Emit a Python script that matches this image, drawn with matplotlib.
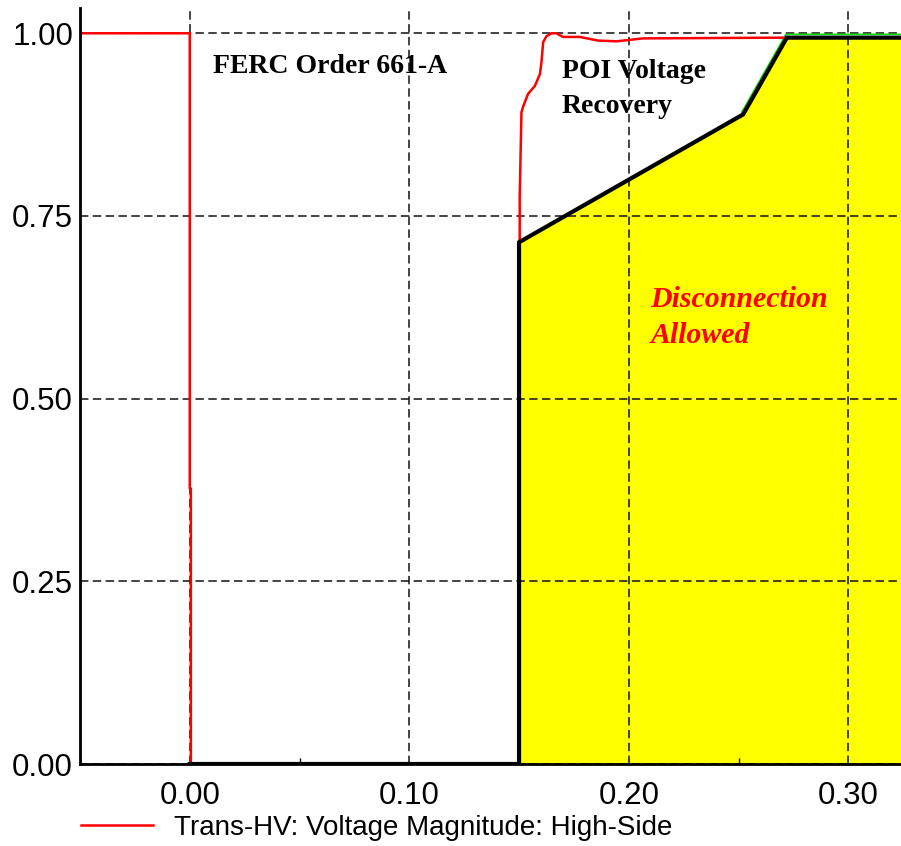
import matplotlib
matplotlib.use("Agg")
import matplotlib.pyplot as plt
from matplotlib.ticker import FixedLocator

# ---- data ----
red_t = [-0.05, 0.0, 0.0, 0.0005, 0.0005, 0.1503, 0.1503, 0.1503, 0.1511, 0.1519,
         0.1541, 0.1572, 0.1595, 0.1602, 0.1610, 0.1625, 0.1648, 0.1670, 0.1700,
         0.1777, 0.1860, 0.1945, 0.2064, 0.2690, 0.2720, 0.324]
red_v = [1.0, 1.0, 0.377, 0.377, 0.0, 0.0, 0.714, 0.777, 0.892, 0.900,
         0.917, 0.928, 0.944, 0.960, 0.988, 0.996, 1.000, 1.000, 0.995,
         0.995, 0.990, 0.989, 0.993, 0.994, 0.994, 0.994]

thr_t = [0.0, 0.15, 0.15, 0.2521, 0.2720, 0.324]
thr_v = [0.0, 0.0, 0.714, 0.889, 0.994, 0.994]

green_t = [0.2515, 0.2716, 0.324]
green_v = [0.892, 0.9985, 0.9985]

fill_t = [0.15, 0.2521, 0.2720, 0.324]
fill_v = [0.714, 0.889, 0.994, 0.994]

xticks = [0.0, 0.1, 0.2, 0.3]
xtick_labels = ["0.00", "0.10", "0.20", "0.30"]
yticks = [0.0, 0.25, 0.5, 0.75, 1.0]
ytick_labels = ["0.00", "0.25", "0.50", "0.75", "1.00"]
legend_label = "Trans-HV: Voltage Magnitude: High-Side"

# ---- figure ----
W, H = 901, 846
fig = plt.figure(figsize=(W / 100, H / 100), dpi=100)
ax = fig.add_axes([80 / W, 1 - 764 / H, 1 - 80 / W, (764 - 8) / H])
ax.set_xlim(-0.05, 0.324)
ax.set_ylim(0, 1.0346)

ax.fill_between(fill_t, 0, fill_v, color="#ffff00", lw=0, zorder=1)

ax.set_axisbelow(False)
ax.grid(True, which="major", color="#111111", lw=1.1, linestyle=(0, (5.5, 2.9)), zorder=2)

ax.plot(green_t, green_v, color="#00dd00", lw=1.2, zorder=3)
ax.plot(thr_t, thr_v, color="black", lw=3.0, zorder=4, solid_joinstyle="miter")
line, = ax.plot(red_t, red_v, color="red", lw=1.8, zorder=3.5, label=legend_label)

ax.set_xticks(xticks)
ax.set_xticklabels(xtick_labels)
ax.set_yticks(yticks)
ax.set_yticklabels(ytick_labels)
ax.xaxis.set_minor_locator(FixedLocator([0.05, 0.15, 0.25]))
ax.tick_params(which="major", length=0, labelsize=22.5)
ax.tick_params(axis="x", which="major", pad=12)
ax.tick_params(axis="y", which="major", pad=5)
ax.tick_params(axis="x", which="minor", direction="in", length=4, width=1)
for lab in ax.get_xticklabels() + ax.get_yticklabels():
    lab.set_family("Liberation Sans")

for s in ["top", "right"]:
    ax.spines[s].set_visible(False)
for s in ["left", "bottom"]:
    ax.spines[s].set_linewidth(2)
    ax.spines[s].set_zorder(5)

serif = dict(family="Liberation Serif", weight="bold", va="baseline", ha="left")
ax.text(0.0108, 0.9451, "FERC Order 661-A", fontsize=20, **serif)
ax.text(0.1695, 0.9384, "POI Voltage", fontsize=20, **serif)
ax.text(0.1695, 0.8909, "Recovery", fontsize=20, **serif)
ax.text(0.2097, 0.6258, "Disconnection", fontsize=21.5, style="italic", color="red", **serif)
ax.text(0.2097, 0.5757, "Allowed", fontsize=21.5, style="italic", color="red", **serif)

fig.legend(handles=[line], loc="center left", bbox_to_anchor=(81 / W, 1 - 828 / H),
           frameon=False, borderpad=0, borderaxespad=0, handlelength=2.6,
           handletextpad=0.75, prop={"family": "Liberation Sans", "size": 20})

fig.savefig("out.png", dpi=100)
